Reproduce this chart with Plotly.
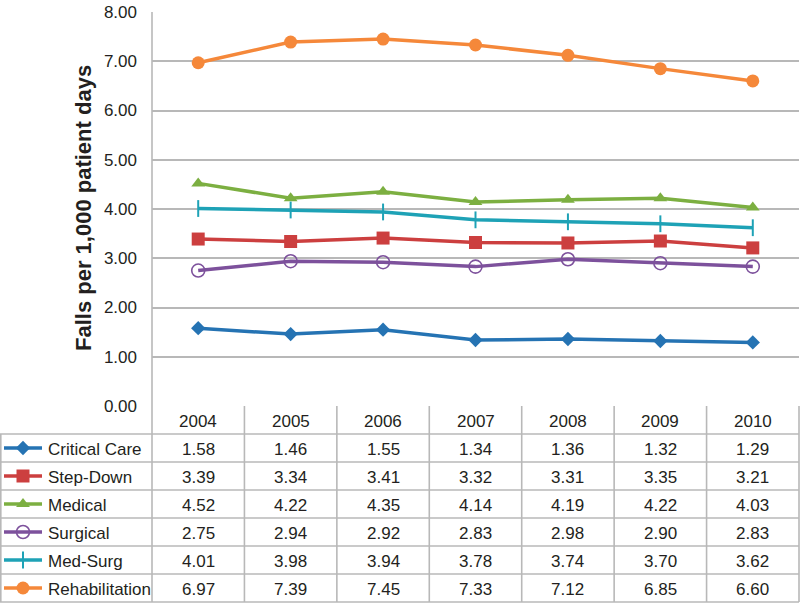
import plotly.graph_objects as go

years = ["2004", "2005", "2006", "2007", "2008", "2009", "2010"]
series_names = ["Critical Care", "Step-Down", "Medical", "Surgical", "Med-Surg", "Rehabilitation"]
critical_care = [1.58, 1.46, 1.55, 1.34, 1.36, 1.32, 1.29]
step_down = [3.39, 3.34, 3.41, 3.32, 3.31, 3.35, 3.21]
medical = [4.52, 4.22, 4.35, 4.14, 4.19, 4.22, 4.03]
surgical = [2.75, 2.94, 2.92, 2.83, 2.98, 2.90, 2.83]
med_surg = [4.01, 3.98, 3.94, 3.78, 3.74, 3.70, 3.62]
rehabilitation = [6.97, 7.39, 7.45, 7.33, 7.12, 6.85, 6.60]
y_ticks = [0, 1, 2, 3, 4, 5, 6, 7, 8]
y_title = "Falls per 1,000 patient days"

values = [critical_care, step_down, medical, surgical, med_surg, rehabilitation]
colors = ["#2573b3", "#cc3f3f", "#7caf41", "#7d519c", "#1ea2b6", "#f5883a"]
markers = [
    dict(symbol="diamond", size=11),
    dict(symbol="square", size=13),
    dict(symbol="triangle-up", size=12),
    dict(symbol="circle-open", size=13, line=dict(width=1.6)),
    dict(symbol="line-ns-open", size=12, line=dict(width=2)),
    dict(symbol="circle", size=13),
]

W, H = 800, 606
FONT = "Liberation Sans, Arial, sans-serif"
GRID = "#b8b8b8"
TXT = "#231f20"

# layout in pixels
plot_left, plot_right = 152, 799
plot_top, plot_bottom = 12, 406
row_h = 28
header_bottom = 434
table_bottom = header_bottom + row_h * len(series_names)
col_w = (plot_right - plot_left) / len(years)

fig = go.Figure()

for name, vals, col, mk in zip(series_names, values, colors, markers):
    m = dict(mk)
    m["color"] = col
    if "line" in m:
        m["line"] = dict(m["line"], color=col)
    fig.add_trace(go.Scatter(
        x=years, y=vals, mode="lines+markers", name=name,
        line=dict(color=col, width=3.5), marker=m,
        xaxis="x", yaxis="y", showlegend=False, cliponaxis=False,
    ))

# legend keys in the table (pixel-space overlay axis)
for i, (name, col, mk) in enumerate(zip(series_names, colors, markers)):
    cy = header_bottom + row_h * (i + 0.5)
    m = dict(mk)
    m["color"] = col
    if "line" in m:
        m["line"] = dict(m["line"], color=col)
    fig.add_trace(go.Scatter(
        x=[4, 42], y=[cy, cy], mode="lines", line=dict(color=col, width=3.5),
        xaxis="x2", yaxis="y2", showlegend=False, hoverinfo="skip",
    ))
    fig.add_trace(go.Scatter(
        x=[23], y=[cy], mode="markers", marker=m,
        xaxis="x2", yaxis="y2", showlegend=False, hoverinfo="skip",
    ))

shapes = []
def hline(y, x0, x1):
    shapes.append(dict(type="line", xref="x2", yref="y2", x0=x0, x1=x1, y0=y, y1=y,
                       line=dict(color=GRID, width=1.6), layer="below"))
def vline(x, y0, y1):
    shapes.append(dict(type="line", xref="x2", yref="y2", x0=x, x1=x, y0=y0, y1=y1,
                       line=dict(color=GRID, width=1.6), layer="below"))

for r in range(len(series_names) + 1):
    hline(header_bottom + r * row_h, 0, plot_right)
vline(0.8, header_bottom, table_bottom)
vline(plot_left, plot_top, table_bottom)
for c in range(1, len(years) + 1):
    vline(plot_left + c * col_w, plot_bottom, table_bottom)

annotations = []
for c, yr in enumerate(years):
    annotations.append(dict(xref="x2", yref="y2", x=plot_left + (c + 0.5) * col_w,
                            y=(plot_bottom + header_bottom) / 2 + 1, text=yr, showarrow=False,
                            font=dict(size=17, color=TXT, family=FONT)))
for r, (name, vals) in enumerate(zip(series_names, values)):
    cy = header_bottom + row_h * (r + 0.5) + 1
    annotations.append(dict(xref="x2", yref="y2", x=46, y=cy, text=name, showarrow=False,
                            xanchor="left", font=dict(size=17, color=TXT, family=FONT)))
    for c, v in enumerate(vals):
        annotations.append(dict(xref="x2", yref="y2", x=plot_left + (c + 0.5) * col_w, y=cy,
                                text=f"{v:.2f}", showarrow=False,
                                font=dict(size=17, color=TXT, family=FONT)))
annotations.append(dict(xref="x2", yref="y2", x=83, y=208,
                        text=f"<b>{y_title}</b>", textangle=-90, showarrow=False,
                        font=dict(size=22, color=TXT, family=FONT)))

fig.update_layout(
    template="none",
    width=W, height=H, margin=dict(l=0, r=0, t=0, b=0, pad=0),
    paper_bgcolor="white", plot_bgcolor="rgba(0,0,0,0)",
    font=dict(family=FONT, color=TXT),
    xaxis=dict(domain=[plot_left / W, plot_right / W], type="category",
               range=[-0.5, len(years) - 0.5], showticklabels=False, showgrid=False,
               zeroline=False, showline=False, fixedrange=True, automargin=False),
    yaxis=dict(domain=[1 - plot_bottom / H, 1 - plot_top / H], range=[0, 8],
               tickvals=y_ticks, tickformat=".2f", showgrid=True, gridcolor=GRID,
               gridwidth=1.6, zeroline=False, showline=False, ticks="",
               ticklabelstandoff=14, tickfont=dict(size=17, color=TXT, family=FONT),
               fixedrange=True, automargin=False),
    xaxis2=dict(domain=[0, 1], range=[0, W], visible=False, fixedrange=True, anchor="y2",
                automargin=False),
    yaxis2=dict(domain=[0, 1], range=[H, 0], visible=False, fixedrange=True, anchor="x2",
                automargin=False),
    shapes=shapes, annotations=annotations,
)

post = (
    "document.documentElement.style.margin='0';"
    "document.documentElement.style.overflow='hidden';"
    "document.body.style.margin='0';"
    "document.body.style.padding='0';"
    "document.body.style.height='606px';"
    "document.body.style.overflow='hidden';"
    "var gd=document.getElementsByClassName('plotly-graph-div')[0];"
    "gd.style.position='fixed';gd.style.top='0px';gd.style.left='0px';"
)
fig.write_html("out.html", config={"displayModeBar": False}, post_script=post)
